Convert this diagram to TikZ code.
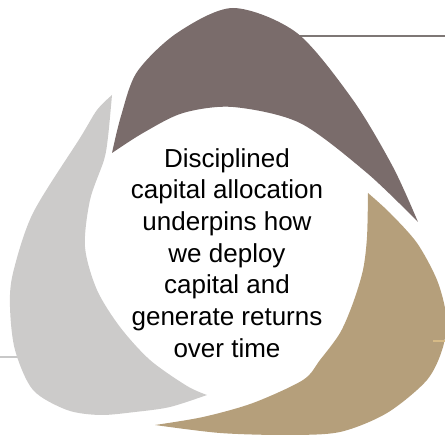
\documentclass[tikz,border=0pt]{standalone}
\usepackage{fontspec}
\setmainfont{Liberation Sans}
\definecolor{cycleTaupe}{RGB}{122,108,107}
\definecolor{cycleSand}{RGB}{181,159,123}
\definecolor{cycleSilver}{RGB}{204,203,202}
\definecolor{leaderTaupe}{RGB}{126,119,117}
\definecolor{leaderSilver}{RGB}{200,200,200}
\definecolor{leaderSand}{RGB}{214,186,134}

\begin{document}
\begin{tikzpicture}[x=1pt,y=-1pt]
\path[use as bounding box, clip] (0,0) rectangle (445,435);
% leader lines
\coordinate (taupeFrom) at (290,36);
\coordinate (taupeTo) at (445,36);
\coordinate (silverFrom) at (0,357);
\coordinate (silverTo) at (30,357);
\coordinate (sandFrom) at (433,341);
\coordinate (sandTo) at (445,341);
\draw[leaderTaupe, line width=2pt] (taupeFrom) -- (taupeTo);
\draw[leaderSilver, line width=1.5pt] (silverFrom) -- (silverTo);
% top crescent
\fill[cycleTaupe] plot[smooth] coordinates {(112,153) (121,116) (137,72) (177,33) (233,8) (297,33) (353,100) (393,167) (418,222)}
  -- plot[smooth] coordinates {(418,222) (367,173) (300,123) (233,107) (183,113) (143,133) (112,153)} -- cycle;
% right crescent
\fill[cycleSand] plot[smooth] coordinates {(368,193) (390,213) (417,243) (437,280) (446,315) (443,347) (427,380) (387,413) (340,432) (287,435) (220,433) (155,425)}
  -- plot[smooth] coordinates {(155,425) (203,417) (253,403) (303,380) (320,360) (340,333) (353,303) (363,270) (367,237) (368,193)} -- cycle;
% left crescent
\fill[cycleSilver] plot[smooth] coordinates {(112,95) (97,110) (80,138) (33,213) (13,273) (10,307) (15,350) (33,390) (67,410) (100,415) (135,412) (170,407) (207,395)}
  -- plot[smooth] coordinates {(207,395) (187,386) (150,360) (120,327) (97,290) (85,247) (90,200) (104,160) (108,137) (112,95)} -- cycle;
\draw[leaderSand, line width=1.5pt] (sandFrom) -- (sandTo);
\node[align=center, anchor=north, inner sep=0pt, font=\fontsize{26}{31.7}\selectfont] (credo) at (227,148)
  {Disciplined\\capital allocation\\underpins how\\we deploy\\capital and\\generate returns\\over time};
\end{tikzpicture}
\end{document}
